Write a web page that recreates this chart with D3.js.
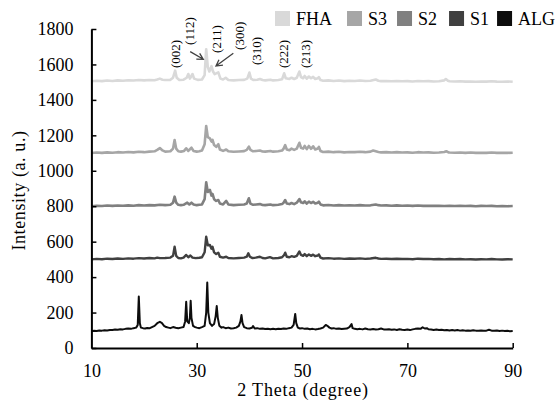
<!DOCTYPE html>
<html><head><meta charset="utf-8">
<script src="https://cdn.jsdelivr.net/npm/d3@7"></script>
<style>
html,body{margin:0;padding:0;background:#fff;}
svg text{font-family:"Liberation Serif","Times New Roman",serif;fill:#000;}
</style></head>
<body>
<svg id="chart" width="556" height="400"></svg>
<script>
// ---------- DATA ----------
const seriesNames = ["FHA","S3","S2","S1","ALG"];
const seriesColors = ["#d9d9d9","#a6a6a6","#808080","#404040","#0d0d0d"];
const xTicks = [10,30,50,70,90];
const yTicks = [0,200,400,600,800,1000,1200,1400,1600,1800];
const xTitle = "2 Theta (degree)";
const yTitle = "Intensity (a. u.)";

const fha = [[10,1505],[11,1508],[12,1506],[13,1509],[14,1507],[15,1510],[16,1508],[17,1511],[18,1509],[19,1512],[20,1510],[21,1512],[22,1511],[22.5,1515],[23,1520],[23.5,1514],[24,1512],[25,1513],[25.5,1525],[25.9,1565],[26.2,1525],[26.7,1512],[27.5,1514],[28.1,1525],[28.4,1546],[28.7,1520],[29.2,1546],[29.5,1520],[30.2,1513],[31,1515],[31.5,1540],[31.8,1686],[32.1,1585],[32.4,1560],[32.8,1590],[33.1,1560],[33.4,1545],[34.1,1555],[34.5,1520],[35,1515],[35.5,1525],[36,1512],[37,1510],[38,1512],[39,1513],[39.6,1520],[40.0,1554],[40.3,1520],[40.8,1512],[41.5,1514],[42,1518],[42.5,1512],[43,1510],[44,1514],[44.5,1510],[45.5,1512],[46.2,1516],[46.6,1550],[46.9,1522],[47.6,1518],[48,1525],[48.5,1518],[49,1525],[49.5,1560],[49.8,1528],[50.2,1522],[50.5,1535],[50.9,1520],[51.3,1532],[51.7,1522],[52.1,1530],[52.5,1518],[53,1522],[53.2,1528],[53.5,1512],[54,1508],[55,1510],[56,1507],[57,1509],[58,1506],[59,1508],[60,1507],[61,1509],[62,1507],[63,1508],[64,1515],[64.5,1508],[65,1506],[66,1507],[67,1505],[68,1507],[69,1505],[70,1506],[71,1504],[72,1507],[73,1505],[74,1506],[75,1504],[76,1505],[77,1510],[77.3,1518],[77.7,1508],[78,1505],[79,1504],[80,1505],[81,1503],[82,1504],[83,1502],[84,1504],[85,1503],[86,1505],[87,1503],[88,1502],[89,1504],[90,1502]];

const s3 = [[10,1100],[11,1103],[12,1101],[13,1104],[14,1102],[15,1105],[16,1103],[17,1106],[18,1104],[19,1107],[20,1105],[21,1108],[22,1110],[22.5,1118],[23,1128],[23.5,1115],[24,1108],[25,1110],[25.5,1125],[25.8,1174],[26.1,1125],[26.5,1110],[27,1108],[27.6,1112],[28.0,1127],[28.4,1112],[29.0,1130],[29.4,1112],[30,1108],[30.5,1110],[31,1114],[31.5,1150],[31.8,1253],[32.1,1190],[32.5,1183],[32.8,1165],[33.0,1174],[33.3,1145],[33.7,1135],[34.1,1150],[34.4,1120],[35,1112],[35.6,1120],[36,1110],[37,1107],[38,1109],[39,1111],[39.5,1118],[39.9,1136],[40.2,1118],[40.7,1110],[41.3,1112],[42,1114],[42.5,1109],[43,1108],[44,1112],[44.5,1108],[45.5,1110],[46.2,1114],[46.5,1125],[46.8,1145],[47.1,1120],[47.6,1116],[48,1125],[48.5,1118],[49,1125],[49.5,1158],[49.8,1130],[50.2,1125],[50.5,1140],[50.9,1122],[51.3,1140],[51.7,1124],[52.1,1138],[52.5,1120],[53,1126],[53.2,1135],[53.5,1112],[54,1106],[55,1108],[56,1105],[57,1107],[58,1104],[59,1106],[60,1105],[61,1107],[62,1105],[63,1108],[63.5,1114],[64,1110],[64.5,1106],[65,1104],[66,1105],[67,1103],[68,1105],[69,1103],[70,1104],[71,1102],[72,1105],[73,1103],[74,1104],[75,1102],[76,1103],[77,1106],[77.4,1110],[77.8,1104],[78,1103],[79,1102],[80,1103],[81,1101],[82,1103],[83,1101],[84,1102],[85,1101],[86,1103],[87,1101],[88,1102],[89,1101],[90,1102]];

const s2 = [[10,800],[11,803],[12,801],[13,804],[14,802],[15,804],[16,803],[17,805],[18,803],[19,806],[20,804],[21,806],[22,805],[23,808],[24,806],[25,808],[25.5,820],[25.8,854],[26.1,820],[26.5,808],[27,806],[27.5,808],[28.2,820],[28.6,810],[29.0,820],[29.4,810],[30,806],[30.5,808],[31,810],[31.5,840],[31.8,935],[32.1,880],[32.5,892],[32.8,860],[33.0,869],[33.3,840],[33.7,830],[34.1,835],[34.4,815],[35,810],[35.6,830],[36,810],[37,806],[38,808],[39,810],[39.5,815],[39.9,845],[40.2,815],[40.7,808],[41.3,810],[42,812],[42.5,807],[43,806],[44,810],[44.5,806],[45.5,808],[46.2,812],[46.5,820],[46.8,835],[47.1,815],[47.6,812],[48,818],[48.5,812],[49,820],[49.5,840],[49.8,822],[50.2,818],[50.5,828],[50.9,815],[51.3,826],[51.7,818],[52.1,825],[52.5,815],[53,820],[53.2,826],[53.5,810],[54,805],[55,807],[56,804],[57,806],[58,804],[59,805],[60,804],[61,806],[62,804],[63,805],[64,810],[64.5,806],[65,804],[66,805],[67,803],[68,805],[69,803],[70,804],[71,802],[72,804],[73,802],[74,803],[75,802],[76,803],[77,801],[78,803],[79,801],[80,802],[81,801],[82,802],[83,800],[84,802],[85,801],[86,802],[87,800],[88,801],[89,800],[90,801]];

const s1 = [[10,500],[11,503],[12,501],[13,504],[14,502],[15,505],[16,503],[17,506],[18,504],[19,507],[20,505],[21,508],[22,506],[22.5,510],[23,507],[24,508],[25,510],[25.5,520],[25.8,572],[26.1,520],[26.5,508],[27,506],[27.5,510],[28,525],[28.4,512],[28.8,522],[29.2,510],[29.8,507],[30.5,509],[31,512],[31.5,540],[31.8,628],[32.1,580],[32.5,581],[32.8,560],[33.0,571],[33.3,540],[33.7,530],[34.1,538],[34.4,515],[35,510],[35.6,515],[36,508],[37,506],[38,508],[39,510],[39.5,515],[39.8,534],[40.1,515],[40.6,507],[41.2,510],[42,515],[42.5,508],[43,506],[43.9,513],[44.5,506],[45.5,508],[46.2,512],[46.6,525],[46.8,538],[47.1,515],[47.6,512],[48,518],[48.5,514],[49,520],[49.5,545],[49.8,525],[50.2,520],[50.5,530],[50.9,518],[51.3,528],[51.7,520],[52.1,527],[52.5,518],[53.0,522],[53.2,528],[53.5,510],[54,505],[55,507],[56,504],[57,506],[58,503],[59,505],[60,504],[61,506],[62,503],[63,505],[64,509],[64.5,505],[65,503],[66,504],[67,502],[68,504],[69,502],[70,503],[71,501],[72,504],[73,502],[74,503],[75,501],[76,502],[77,500],[78,502],[79,501],[80,502],[81,500],[82,501],[83,499],[84,501],[85,500],[86,502],[87,500],[88,499],[89,501],[90,500]];

const alg = [[10,95],[10.5,97],[11,96],[11.5,99],[12,98],[12.5,100],[13,99],[13.5,102],[14,101],[14.5,104],[15,103],[15.5,106],[16,105],[16.5,108],[17,110],[17.5,108],[18,112],[18.5,115],[18.8,130],[19.0,290],[19.2,140],[19.4,115],[19.8,112],[20.2,110],[20.6,113],[21,111],[21.5,118],[22,125],[22.5,140],[23,148],[23.4,140],[23.8,125],[24.2,118],[24.6,115],[25,112],[25.5,118],[26,114],[26.5,112],[27,115],[27.5,118],[27.8,150],[28.0,261],[28.2,150],[28.5,140],[28.7,170],[28.85,267],[29.0,170],[29.3,125],[29.7,118],[30,115],[30.5,112],[31,118],[31.5,125],[31.8,200],[32.0,369],[32.2,200],[32.5,140],[32.9,125],[33.3,135],[33.6,180],[33.8,237],[34.0,170],[34.3,125],[34.7,115],[35,118],[35.5,112],[36,115],[36.5,110],[37,112],[37.5,115],[38.0,125],[38.3,150],[38.5,186],[38.7,140],[39,118],[39.5,112],[40,110],[40.5,114],[40.7,124],[41,110],[41.5,112],[42,108],[42.5,110],[43,107],[43.5,109],[44,106],[44.5,108],[45,106],[45.5,109],[46,107],[46.5,110],[47,108],[47.5,112],[48,115],[48.4,130],[48.7,192],[48.9,140],[49.2,115],[49.6,110],[50,112],[50.5,108],[51,110],[51.5,106],[52,108],[52.5,105],[53,107],[53.5,110],[54,115],[54.5,130],[54.8,125],[55.2,115],[55.6,110],[56,112],[56.5,108],[57,110],[57.5,107],[58,109],[58.5,110],[59,118],[59.4,135],[59.6,112],[60,108],[60.5,106],[61,108],[61.5,105],[62,110],[62.5,106],[63,105],[63.5,107],[64,104],[64.5,106],[65,110],[65.5,105],[66,104],[66.5,106],[67,103],[67.5,105],[68,102],[68.5,106],[69,103],[69.5,102],[70,104],[70.5,101],[71,105],[71.5,108],[72,110],[72.5,108],[72.9,117],[73.3,110],[73.7,112],[74,106],[74.5,104],[75,102],[75.5,104],[76,101],[76.5,103],[77,100],[77.5,102],[78,99],[78.5,101],[79,99],[79.5,101],[80,98],[80.5,100],[81,98],[81.5,99],[82,97],[82.5,100],[83,98],[83.5,97],[84,99],[84.5,97],[85,98],[85.5,103],[86,98],[86.5,97],[87,99],[87.5,96],[88,98],[88.5,96],[89,97],[89.5,95],[90,96]];

const seriesData = [fha, s3, s2, s1, alg];

// peak annotations: label, 2theta, intensity at text bottom
const peakLabels = ["(002)","(112)","(211)","(300)","(310)","(222)","(213)"];
const peakTheta = [25.9, 28.55, 33.66, 38.2, 41.4, 46.4, 50.55];
const peakLabelY = [1580, 1710, 1665, 1682, 1597, 1580, 1580];
// arrows: [tail theta, tail intensity, tip theta, tip intensity]
const arrows = [[28.76,1672,31.25,1629],[36.95,1663,33.66,1591]];

// ---------- CHART ----------
const svg = d3.select("#chart");
const x = d3.scaleLinear().domain([10,90]).range([91.4,512.7]);
const y = d3.scaleLinear().domain([0,1800]).range([348,29]);

const line = d3.line().x(d=>x(d[0])).y(d=>y(d[1]));
const lineWidths = [2.6,2.6,2.6,2.4,2.0];
seriesData.forEach((data,i)=>{
  svg.append("path").datum(data)
    .attr("d",line).attr("fill","none")
    .attr("stroke",seriesColors[i]).attr("stroke-width",lineWidths[i])
    .attr("stroke-linejoin","round");
});

// axes
const yAxis = d3.axisLeft(y).tickValues(yTicks).tickFormat(d3.format("d"))
  .tickSizeInner(-5).tickSizeOuter(0).tickPadding(18);
const gy = svg.append("g").attr("transform",`translate(${x(10)},0)`).call(yAxis);
gy.selectAll("text").style("font-size","18px");
gy.select(".domain").attr("stroke","#000").attr("stroke-width",2);
gy.selectAll(".tick line").attr("stroke","#000").attr("stroke-width",1.5);

const xAxis = d3.axisBottom(x).tickValues(xTicks).tickFormat(d3.format("d"))
  .tickSizeInner(-5).tickSizeOuter(0).tickPadding(16);
const gx = svg.append("g").attr("transform",`translate(0,${y(0)})`).call(xAxis);
gx.selectAll("text").style("font-size","18px");
gx.select(".domain").attr("stroke","#000").attr("stroke-width",2);
gx.selectAll(".tick line").attr("stroke","#000").attr("stroke-width",1.5);
gx.selectAll(".tick").filter(d=>d===10).select("line").remove();

// axis titles
svg.append("text").attr("x",(x(10)+x(90))/2+1).attr("y",396)
  .attr("text-anchor","middle").style("font-size","18px").style("letter-spacing","0.8px")
  .text(xTitle);
svg.append("text").attr("transform",`translate(25,${(y(0)+y(1800))/2+2}) rotate(-90)`)
  .attr("text-anchor","middle").style("font-size","18px").style("letter-spacing","0.6px")
  .text(yTitle);

// peak labels
peakLabels.forEach((t,i)=>{
  svg.append("text")
    .attr("transform",`translate(${x(peakTheta[i])},${y(peakLabelY[i])}) rotate(-90)`)
    .attr("dy","0.35em").attr("text-anchor","start")
    .style("font-size","13px").text(t);
});

// arrows
arrows.forEach(a=>{
  const x1=x(a[0]), y1=y(a[1]), x2=x(a[2]), y2=y(a[3]);
  const ang=Math.atan2(y2-y1,x2-x1), h=7, w=0.5;
  const p = `M${x1},${y1}L${x2},${y2}` +
    `M${x2-h*Math.cos(ang-w)},${y2-h*Math.sin(ang-w)}L${x2},${y2}L${x2-h*Math.cos(ang+w)},${y2-h*Math.sin(ang+w)}`;
  svg.append("path").attr("d",p).attr("fill","none").attr("stroke","#404040").attr("stroke-width",1.3);
});

// legend
let lx = 275;
const legendGaps = [15,10,12,8,0];
seriesNames.forEach((n,i)=>{
  svg.append("rect").attr("x",lx).attr("y",11).attr("width",15).attr("height",15).attr("fill",seriesColors[i]);
  const t = svg.append("text").attr("x",lx+21).attr("y",25).style("font-size","18px").text(n);
  lx += 21 + t.node().getComputedTextLength() + legendGaps[i];
});
</script>
</body></html>
